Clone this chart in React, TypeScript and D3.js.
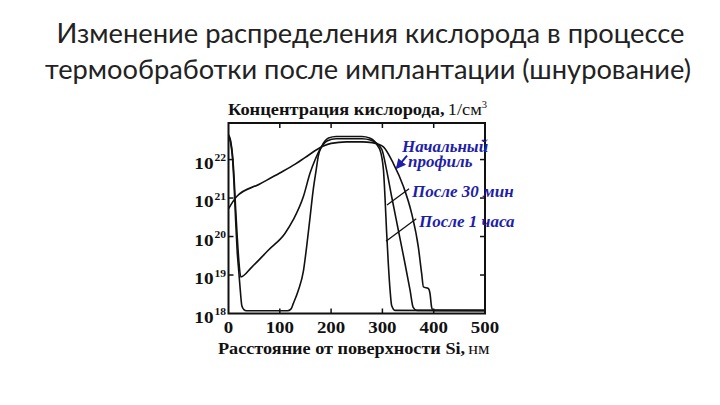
import React from "react";
import * as d3 from "d3";

// ---- data (depth in nm, log10 of oxygen concentration in 1/cm^3) ----
const titleLines = [
  "Изменение распределения кислорода в процессе",
  "термообработки после имплантации (шнурование)",
];
const xTicks = [0, 100, 200, 300, 400, 500];
const yExponents = [18, 19, 20, 21, 22];

const initialDepth = [0, 16, 60, 100, 130, 149, 175, 185, 200, 230, 260, 280, 292, 302, 321, 341, 357, 370, 376.5, 380, 389.5, 392.8, 396, 399, 500];
const initialLogC = [20.72, 21.04, 21.36, 21.65, 21.88, 22.05, 22.28, 22.35, 22.42, 22.46, 22.46, 22.44, 22.4, 22.33, 21.91, 21.3, 20.6, 19.73, 19.04, 18.69, 18.65, 18.52, 18.16, 18.08, 18.08];

const min30Depth = [0, 4, 8, 11, 14, 17, 20, 24, 45, 78, 110, 126, 146, 159, 169, 178, 184, 192, 210, 260, 278, 289, 299, 308, 318, 331, 344, 354, 360, 367, 500];
const min30LogC = [22.65, 22.5, 22.1, 21.5, 20.7, 20.0, 19.4, 18.95, 19.2, 19.65, 20.08, 20.43, 21.04, 21.65, 22.0, 22.26, 22.38, 22.48, 22.54, 22.54, 22.5, 22.42, 22.26, 21.74, 21.04, 20.17, 19.3, 18.6, 18.16, 18.08, 18.08];

const hour1Depth = [0, 4, 8, 11, 14, 17, 20, 23, 26, 30, 35, 115, 122, 126, 136, 146, 152, 159, 165, 171, 175, 182, 188, 195, 210, 260, 275, 285, 292, 295, 302, 305, 308, 311.5, 315, 318, 325, 500];
const hour1LogC = [22.6, 22.45, 22.0, 21.3, 20.4, 19.6, 19.1, 18.6, 18.2, 18.1, 18.07, 18.07, 18.12, 18.25, 18.6, 19.1, 19.7, 20.5, 21.2, 21.74, 22.09, 22.35, 22.48, 22.56, 22.6, 22.6, 22.56, 22.47, 22.33, 22.26, 21.74, 21.04, 20.17, 19.3, 18.6, 18.21, 18.08, 18.07];

const seriesList = [
  { name: "Начальный профиль", depth: initialDepth, logC: initialLogC },
  { name: "После 30 мин", depth: min30Depth, logC: min30LogC },
  { name: "После 1 часа", depth: hour1Depth, logC: hour1LogC },
];

// annotation pointer lines, in data coordinates [depth, log10 C]
const pointer30 = [[309, 20.82], [352, 21.24]];
const pointer1h = [[307, 19.88], [366, 20.46]];
const arrowInitial = [[348, 22.1], [328.5, 21.79]];

const serif = "'Liberation Serif', 'Times New Roman', serif";

function SText(props: any) {
  const { x, y, sx = 1, children, ...rest } = props;
  return (
    <text transform={`translate(${x},${y}) scale(${sx},1)`} {...rest}>
      {children}
    </text>
  );
}

export default function App() {
  const W = 720, H = 405;
  const x = d3.scaleLinear().domain([0, 500]).range([228.5, 485]);
  const y = d3.scaleLog().domain([1e18, Math.pow(10, 22.95)]).range([313.5, 123]);
  const line = d3
    .line<[number, number]>()
    .x((d) => x(d[0]))
    .y((d) => y(Math.pow(10, d[1])))
    .curve(d3.curveMonotoneX);

  const x0 = x(0), x1 = x(500), yb = y(1e18), yt = y(Math.pow(10, 22.95));
  const blue = "#1e1eaa";
  const tick = 5;
  const P = (p: number[]) => [x(p[0]), y(Math.pow(10, p[1]))];

  return (
    <svg width={W} height={H} viewBox={`0 0 ${W} ${H}`} style={{ display: "block", position: "absolute", left: 0, top: 0, background: "#fff" }}>
      <rect x={0} y={0} width={W} height={H} fill="#fff" />
      {/* Slide title */}
      <text x={370.5} y={43} textAnchor="middle" fontFamily="Lato, 'Open Sans', sans-serif" fontSize={27} fill="#222" textLength={628} lengthAdjust="spacingAndGlyphs">{titleLines[0]}</text>
      <text x={368} y={79} textAnchor="middle" fontFamily="Lato, 'Open Sans', sans-serif" fontSize={27} fill="#222" textLength={646} lengthAdjust="spacingAndGlyphs">{titleLines[1]}</text>

      {/* Y axis title */}
      <SText x={228} y={115} sx={1.05} fontFamily={serif} fontSize={17.5} fill="#111">
        <tspan fontWeight="bold">Концентрация кислорода,</tspan>
        <tspan dx={3}>1/см</tspan>
        <tspan dy={-7} fontSize={10}>3</tspan>
      </SText>

      {/* curves */}
      {seriesList.map((s) => (
        <path
          key={s.name}
          d={line(s.depth.map((d, i) => [d, s.logC[i]] as [number, number])) || ""}
          fill="none"
          stroke="#111"
          strokeWidth={1.6}
          strokeLinejoin="round"
        />
      ))}

      {/* frame */}
      <rect x={x0} y={yt} width={x1 - x0} height={yb - yt} fill="none" stroke="#111" strokeWidth={2} />

      {/* x ticks (inside, top and bottom) */}
      {xTicks.slice(1, -1).map((t) => (
        <g key={"xt" + t}>
          <line x1={x(t)} x2={x(t)} y1={yb} y2={yb - tick} stroke="#111" strokeWidth={1.5} />
          <line x1={x(t)} x2={x(t)} y1={yt} y2={yt + tick} stroke="#111" strokeWidth={1.5} />
        </g>
      ))}
      {xTicks.map((t) => (
        <SText key={"xl" + t} x={x(t)} y={333} sx={1.08} textAnchor="middle" fontFamily={serif} fontWeight="bold" fontSize={17.5} fill="#111">{t}</SText>
      ))}

      {/* y ticks (inside, left and right) */}
      {yExponents.slice(1).map((e) => (
        <g key={"yt" + e}>
          <line x1={x0} x2={x0 + tick} y1={y(Math.pow(10, e))} y2={y(Math.pow(10, e))} stroke="#111" strokeWidth={1.5} />
          <line x1={x1} x2={x1 - tick} y1={y(Math.pow(10, e))} y2={y(Math.pow(10, e))} stroke="#111" strokeWidth={1.5} />
        </g>
      ))}
      {yExponents.map((e) => {
        const ty = y(Math.pow(10, e));
        return (
          <g key={"yl" + e} fontFamily={serif} fontWeight="bold" fill="#111">
            <SText x={213.5} y={ty + 9} sx={1.1} textAnchor="end" fontSize={17.5}>10</SText>
            <SText x={214.5} y={ty + 1.5} sx={1.1} fontSize={10.5}>{e}</SText>
          </g>
        );
      })}

      {/* X axis title */}
      <SText x={218} y={354} sx={1.04} fontFamily={serif} fontSize={17.5} fill="#111">
        <tspan fontWeight="bold">Расстояние от поверхности Si,</tspan>
        <tspan dx={3}>нм</tspan>
      </SText>

      {/* annotations */}
      <line x1={P(pointer30[0])[0]} y1={P(pointer30[0])[1]} x2={P(pointer30[1])[0]} y2={P(pointer30[1])[1]} stroke="#111" strokeWidth={1.3} />
      <line x1={P(pointer1h[0])[0]} y1={P(pointer1h[0])[1]} x2={P(pointer1h[1])[0]} y2={P(pointer1h[1])[1]} stroke="#111" strokeWidth={1.3} />
      <defs>
        <marker id="ah" viewBox="0 0 10 10" refX="8" refY="5" markerWidth="5" markerHeight="5" orient="auto">
          <path d="M0,0 L10,5 L0,10 z" fill={blue} />
        </marker>
      </defs>
      <line x1={P(arrowInitial[0])[0]} y1={P(arrowInitial[0])[1]} x2={P(arrowInitial[1])[0]} y2={P(arrowInitial[1])[1]} stroke={blue} strokeWidth={2} markerEnd="url(#ah)" />

      <g fontFamily={serif} fontWeight="bold" fontStyle="italic" fontSize={17} fill={blue}>
        <text x={402} y={151.5}>Начальный</text>
        <text x={408} y={167}>профиль</text>
        <text x={412} y={196.5}>После 30 мин</text>
        <text x={419} y={226.5}>После 1 часа</text>
      </g>
    </svg>
  );
}
